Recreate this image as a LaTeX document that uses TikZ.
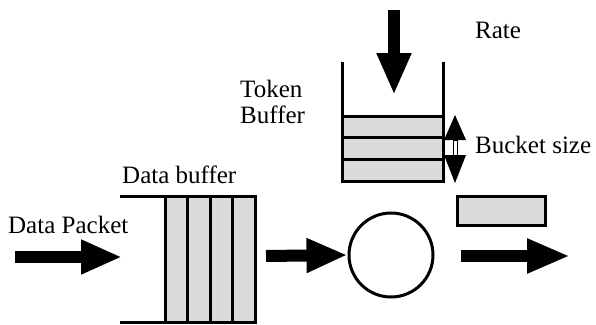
\documentclass[tikz,border=0pt]{standalone}
\usepackage{fontspec}
\setmainfont{Liberation Serif}
\usetikzlibrary{arrows.meta}
\begin{document}
\begin{tikzpicture}[x=1pt,y=-1pt,
  lbl/.style={anchor=base west,inner sep=0pt,font=\fontsize{25}{29}\selectfont},
  wall/.style={line width=3pt},
  slot/.style={draw,line width=3pt,fill=black!14},
  blockarrow/.style={line width=12pt,-{Triangle[length=41pt,width=32pt]}}
]
\useasboundingbox (0,0) rectangle (596,324);
% data buffer
\draw[wall] (120,196) -- (255,196);
\draw[wall] (120,322) -- (255,322);
\foreach \x in {165,187.5,210,232.5}{
  \draw[slot] (\x,196) rectangle ++(22.5,126);
}
\node[lbl] (dbuf) at (122,183) {Data buffer};
\node[lbl] (dpkt) at (8,233) {Data Packet};
% token bucket
\draw[wall] (342,62) -- (342,183);
\draw[wall] (443,62) -- (443,183);
\foreach \y in {116,137.5,159}{
  \draw[slot] (342,\y) rectangle (443,\y+22);
}
\node[lbl] (tok) at (240,97) {Token};
\node[lbl] (tbuf) at (240,123) {Buffer};
\node[lbl] (rate) at (475,38) {Rate};
\node[lbl] (bsize) at (475,153) {Bucket size};
% bucket size double arrow
\fill (455,115) -- (466,140) -- (444,140) -- cycle;
\fill (455,183) -- (466,155) -- (444,155) -- cycle;
\draw[line width=1pt,fill=white] (453,140) rectangle (457.5,155);
% token
\draw[slot] (457,196) rectangle (545,225);
% server
\node[draw,circle,line width=3pt,minimum size=84pt,inner sep=0pt] (srv) at (391,255) {};
% arrows
\coordinate (pin) at (15,257);
\coordinate (pend) at (122,257);
\coordinate (qout) at (266,256);
\coordinate (sout) at (461,256);
\coordinate (fin) at (570,256);
\coordinate (rtop) at (394,10);
\coordinate (rend) at (394,95);
\draw[blockarrow] (pin) -- (pend);
\draw[blockarrow] (qout) -- (srv.west);
\draw[blockarrow,-{Triangle[length=43pt,width=32pt]}] (sout) -- (fin);
\draw[blockarrow,-{Triangle[length=42pt,width=32pt]}] (rtop) -- (rend);
\end{tikzpicture}
\end{document}
